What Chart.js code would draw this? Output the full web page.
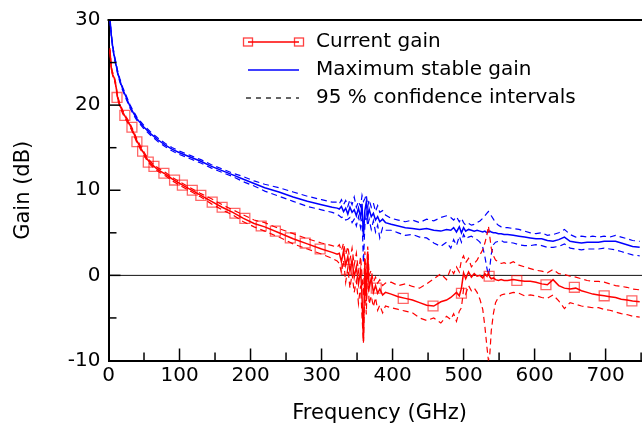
<!DOCTYPE html>
<html>
<head>
<meta charset="utf-8">
<script src="https://cdn.jsdelivr.net/npm/chart.js@4.4.1/dist/chart.umd.min.js"></script>
<style>
  html, body { margin: 0; padding: 0; background: #fff; overflow: hidden; }
  canvas { display: block; }
</style>
</head>
<body>
<canvas id="gainChart" width="659" height="425"></canvas>
<script>
// frequency points (GHz), shared by all six measured curves
const freq = [
  2, 4, 6, 8, 10, 13, 16, 20, 25, 30, 35, 40, 45, 50, 55, 60, 70, 80, 90, 100,
  115, 130, 145, 160, 175, 190, 205, 220, 240, 260, 280, 300, 315,
  322, 325, 328, 331, 334, 337, 340, 343, 346, 349, 352, 355, 357, 359, 361, 363, 365, 367, 370, 373,
  376, 379, 382, 386, 390,
  398, 408, 418, 428, 438, 448, 458, 468, 476,
  482, 486, 490, 494, 497, 500, 503, 507, 511, 515, 519, 523, 527, 530, 533, 535, 537, 539, 542, 545,
  549, 553, 557,
  562, 570, 578, 586, 594, 602, 610, 618, 626, 634, 642, 650, 658, 666, 674, 682, 690, 698, 706, 714,
  722, 730, 738, 748
];

// current gain (dB) and its 95 % bounds
const currentGain = [
  26.5, 24.3, 23.6, 23.2, 22.5, 20.8, 20.0, 19.2, 18.4, 17.7, 16.8, 15.8, 15.0, 14.3, 13.6, 13.1, 12.4, 11.9, 11.3, 10.8,
  10.1, 9.4, 8.7, 8.0, 7.4, 6.7, 6.1, 5.7, 5.0, 4.3, 3.7, 3.1, 2.7,
  2.5, 2.6, 1.6, 2.9, 1.2, 2.2, 0.5, 1.8, -0.2, 1.0, -1.0, 0.6, -2.5, -7.7, 1.4, -3.0, 2.8, -1.5, -0.3, -2.0,
  -1.2, -2.1, -1.6, -2.3, -2.0,
  -2.2, -2.5, -2.7, -2.9, -3.2, -3.5, -3.6, -3.1, -2.9,
  -2.6, -2.3, -2.0, -2.4, -1.5, 0.3, -0.4, 0.4, -0.2, 0.2, -0.1, 0.0, -0.3, 0.2, -0.1, 0.3, -0.2, -0.4, -0.3, -0.5,
  -0.6, -0.5, -0.6,
  -0.6, -0.5, -0.6, -0.7, -0.7, -0.8, -1.0, -1.1, -0.5, -1.2, -1.5, -1.6, -1.5, -1.8, -2.0, -2.2, -2.3, -2.4, -2.5, -2.6,
  -2.8, -2.9, -3.0, -3.1
];
const currentGainHigh = [
  26.7, 24.5, 23.8, 23.4, 22.7, 21.0, 20.2, 19.4, 18.6, 17.9, 17.0, 16.0, 15.2, 14.5, 13.8, 13.3, 12.6, 12.1, 11.5, 11.0,
  10.3, 9.6, 9.0, 8.3, 7.7, 7.1, 6.5, 6.2, 5.5, 4.9, 4.3, 3.8, 3.5,
  3.3, 3.6, 2.9, 3.8, 2.4, 3.4, 1.8, 3.2, 1.2, 2.6, 0.4, 2.2, 0.0, -2.5, 2.8, -1.0, 3.4, 0.0, 0.6, -0.8,
  -0.2, -0.9, -0.5, -1.2, -0.9,
  -0.8, -1.2, -1.0, -1.3, -1.5, -1.0, -0.4, 0.2, -0.5,
  0.8, 0.2, 1.0, 0.4, 1.8, 2.3, 1.5, 2.0, 1.0, 1.4, 1.8, 2.4, 3.0, 3.8, 4.8, 5.8, 4.5, 3.2, 2.3, 1.8,
  1.6, 1.4, 1.5,
  1.3, 1.6, 1.2, 1.0, 0.8, 0.6, 0.5, 0.3, 0.7, 0.2, 0.1, -0.1, -0.2, -0.4, -0.6, -0.7, -0.7, -0.8, -1.0, -1.2,
  -1.3, -1.4, -1.6, -1.7
];
const currentGainLow = [
  26.3, 24.1, 23.4, 23.0, 22.3, 20.6, 19.8, 19.0, 18.2, 17.5, 16.6, 15.6, 14.8, 14.1, 13.4, 12.9, 12.2, 11.7, 11.1, 10.6,
  9.9, 9.2, 8.4, 7.7, 7.1, 6.3, 5.7, 5.2, 4.5, 3.7, 3.1, 2.5, 2.0,
  1.7, 1.4, 0.3, 1.8, -0.8, 0.9, -1.5, 0.2, -2.0, -0.6, -3.3, -1.2, -4.8, -7.9, -0.7, -4.6, 1.5, -3.4, -2.4, -3.7,
  -2.6, -4.1, -3.5, -4.4, -3.6,
  -3.8, -4.0, -4.2, -4.4, -5.0, -5.3, -5.0, -5.6, -4.8,
  -5.2, -4.5, -5.4, -4.2, -3.8, -1.6, -2.2, -1.2, -1.8, -1.5, -2.0, -2.8, -4.0, -6.0, -8.5, -10.0, -9.2, -6.5, -4.5, -3.2,
  -2.6, -2.3, -2.2,
  -2.2, -2.0, -2.1, -2.4, -2.3, -2.4, -2.6, -2.7, -2.3, -3.0, -3.9, -3.2, -3.4, -3.6, -3.7, -3.8, -3.8, -4.0, -4.1, -4.3,
  -4.5, -4.6, -4.8, -4.9
];

// maximum stable gain (dB) and its 95 % bounds
const stableGain = [
  30.2, 28.2, 26.8, 25.8, 25.0, 23.8, 22.9, 21.9, 20.9, 19.9, 19.1, 18.4, 17.9, 17.4, 17.0, 16.6, 15.9, 15.3, 14.8, 14.4,
  13.9, 13.4, 12.8, 12.3, 11.8, 11.3, 10.8, 10.3, 9.8, 9.2, 8.7, 8.3, 8.0,
  7.9, 7.8, 8.1, 7.5, 7.9, 7.2, 8.0, 7.4, 7.7, 7.0, 7.9, 6.8, 8.4, 4.5, 7.6, 8.6, 6.9, 7.8, 6.9, 7.3,
  6.5, 6.9, 6.3, 6.6, 6.2,
  6.0, 5.8, 5.6, 5.5, 5.4, 5.5, 5.3, 5.2, 5.4,
  5.3, 5.6, 5.1, 5.7, 5.0, 5.6, 5.2, 5.4, 5.3, 5.2, 5.3, 5.2, 5.1, 5.2, 5.0, 5.1, 5.2, 5.1, 5.0, 5.0,
  4.9, 4.9, 4.8,
  4.8, 4.7, 4.6, 4.5, 4.4, 4.3, 4.3, 4.1, 4.0, 4.2, 4.5, 4.0, 3.9, 3.8, 3.9, 3.9, 3.9, 4.0, 4.0, 4.0,
  3.8, 3.6, 3.4, 3.3
];
const stableGainHigh = [
  30.4, 28.4, 27.0, 26.0, 25.2, 24.0, 23.1, 22.1, 21.1, 20.1, 19.3, 18.6, 18.1, 17.6, 17.2, 16.8, 16.1, 15.5, 15.0, 14.6,
  14.1, 13.6, 13.0, 12.5, 12.0, 11.6, 11.1, 10.7, 10.3, 9.8, 9.3, 8.9, 8.6,
  8.6, 8.4, 8.9, 8.3, 8.8, 8.1, 8.9, 8.3, 9.2, 8.0, 8.7, 8.1, 9.4, 8.7, 9.0, 9.5, 8.1, 8.9, 8.0, 8.5,
  7.5, 8.2, 7.4, 7.6, 7.1,
  6.7, 6.5, 6.3, 6.5, 6.2, 6.6, 6.4, 6.8, 7.0,
  6.8, 6.5, 6.9, 6.3, 6.7, 6.2, 5.9, 6.1, 5.9, 6.0, 6.2, 6.4, 6.7, 7.0, 7.3, 7.5, 7.3, 7.0, 6.6, 6.2,
  5.9, 5.7, 5.6,
  5.6, 5.5, 5.4, 5.2, 5.0, 4.9, 5.0, 4.7, 4.8, 5.0, 5.4, 4.8, 4.5, 4.6, 4.5, 4.6, 4.5, 4.6, 4.5, 4.7,
  4.5, 4.3, 4.1, 4.0
];
const stableGainLow = [
  30.0, 28.0, 26.6, 25.6, 24.8, 23.6, 22.7, 21.7, 20.7, 19.7, 18.9, 18.2, 17.7, 17.2, 16.8, 16.4, 15.7, 15.1, 14.6, 14.2,
  13.7, 13.2, 12.6, 12.1, 11.6, 11.0, 10.5, 9.9, 9.3, 8.7, 8.1, 7.7, 7.4,
  7.2, 7.0, 6.8, 6.9, 6.5, 6.6, 6.8, 6.2, 6.6, 5.8, 6.9, 5.6, 6.7, 1.5, 5.9, 7.2, 5.8, 6.6, 5.4, 6.4,
  5.1, 5.9, 4.4, 5.6, 5.3,
  5.3, 5.0, 4.7, 4.8, 4.5, 4.4, 3.8, 3.4, 3.9,
  3.2, 4.2, 3.5, 4.6, 3.9, 4.8, 4.3, 4.5, 4.6, 4.4, 4.2, 3.9, 3.3, 2.2, 0.8, 0.0, 1.0, 2.5, 3.6, 3.9,
  4.0, 4.1, 3.9,
  3.9, 3.8, 3.6, 3.5, 3.5, 3.6, 3.5, 3.3, 3.3, 3.4, 3.7, 3.2, 3.1, 3.0, 3.1, 3.1, 3.1, 3.2, 3.1, 3.0,
  2.8, 2.6, 2.4, 2.3
];

// square symbols on the current gain curve
const markerFreq = [12, 23, 33, 40, 48, 56, 64, 78, 93, 104, 118, 130, 146, 160, 178, 192, 215, 235, 256, 277, 298,
  335, 377, 415, 457, 497, 536, 575, 616, 656, 698, 737];
const markerGain = [20.9, 18.8, 17.4, 15.7, 14.6, 13.3, 12.8, 12.0, 11.2, 10.6, 10.0, 9.4, 8.6, 8.0, 7.3, 6.7, 5.8, 5.2, 4.4, 3.8, 3.1,
  0.7, -1.5, -2.7, -3.6, -2.1, -0.1, -0.6, -1.1, -1.4, -2.4, -3.0];

const legendLabels = ["Current gain", "Maximum stable gain", "95 % confidence intervals"];

const RED = "#ff0000";
const BLUE = "#0000ff";
const DASH = [6, 4];

Chart.defaults.font.family = '"DejaVu Sans", sans-serif';
Chart.defaults.font.size = 20;
Chart.defaults.color = "#000";

function pairs(xs, ys) {
    return xs.map((f, i) => ({ x: f, y: ys[i] }));
}

function lineSet(label, ys, color, dashed) {
    return {
        label: label,
        data: pairs(freq, ys),
        borderColor: color,
        borderWidth: dashed ? 1.2 : 1.5,
        borderDash: dashed ? DASH : [],
        pointRadius: 0,
        fill: false,
        tension: 0
    };
}

// zero line, frame, inward ticks and the boxed legend
const plotDecor = {
    id: "plotDecor",
    beforeDatasetsDraw(chart) {
        const { ctx, chartArea, scales: { y } } = chart;
        const y0 = y.getPixelForValue(0);
        ctx.save();
        ctx.strokeStyle = "#111";
        ctx.lineWidth = 1;
        ctx.beginPath();
        ctx.moveTo(chartArea.left, y0);
        ctx.lineTo(chartArea.right, y0);
        ctx.stroke();
        ctx.restore();
    },
    afterDraw(chart) {
        const { ctx, chartArea, scales: { x, y } } = chart;
        ctx.save();
        ctx.strokeStyle = "#000";
        ctx.lineWidth = 2;
        ctx.beginPath();
        ctx.moveTo(chartArea.left - 1, chartArea.top);
        ctx.lineTo(chartArea.right, chartArea.top);
        ctx.stroke();

        ctx.lineWidth = 1.5;
        for (let v = 50; v <= 750; v += 50) {
            const px = x.getPixelForValue(v);
            const len = v % 100 === 0 ? 12 : 8;
            ctx.beginPath();
            ctx.moveTo(px, chartArea.bottom);
            ctx.lineTo(px, chartArea.bottom - len);
            ctx.stroke();
        }
        for (let v = -5; v <= 25; v += 5) {
            const py = y.getPixelForValue(v);
            const len = v % 10 === 0 ? 12 : 8;
            ctx.beginPath();
            ctx.moveTo(chartArea.left, py);
            ctx.lineTo(chartArea.left + len, py);
            ctx.stroke();
        }

        // legend
        const rows = [42, 70, 98];
        const x1 = 248, x2 = 299, textX = 316;
        ctx.lineWidth = 1.5;
        ctx.strokeStyle = RED;
        ctx.beginPath();
        ctx.moveTo(x1, rows[0]);
        ctx.lineTo(x2, rows[0]);
        ctx.stroke();
        ctx.lineWidth = 1.3;
        ctx.strokeStyle = "rgba(255,0,0,0.75)";
        ctx.strokeRect(x1 - 4.5, rows[0] - 4, 9, 8);
        ctx.strokeRect(x2 - 4.5, rows[0] - 4, 9, 8);

        ctx.lineWidth = 1.5;
        ctx.strokeStyle = BLUE;
        ctx.beginPath();
        ctx.moveTo(x1, rows[1]);
        ctx.lineTo(x2, rows[1]);
        ctx.stroke();

        ctx.lineWidth = 1.2;
        ctx.strokeStyle = "#000";
        ctx.setLineDash([5, 5]);
        ctx.beginPath();
        ctx.moveTo(x1 - 2, rows[2]);
        ctx.lineTo(x2, rows[2]);
        ctx.stroke();
        ctx.setLineDash([]);

        ctx.fillStyle = "#000";
        ctx.font = '20px "DejaVu Sans", sans-serif';
        ctx.textBaseline = "middle";
        ctx.textAlign = "left";
        legendLabels.forEach((t, i) => ctx.fillText(t, textX, rows[i]));
        ctx.restore();
    }
};

const gainChart = new Chart(document.getElementById("gainChart").getContext("2d"), {
    type: "line",
    data: {
        datasets: [
            {
                label: legendLabels[0] + " symbols",
                data: pairs(markerFreq, markerGain),
                showLine: false,
                pointStyle: "rect",
                pointRadius: 7,
                pointBorderWidth: 1.3,
                pointBorderColor: "rgba(255,0,0,0.6)",
                pointBackgroundColor: "rgba(0,0,0,0)"
            },
            lineSet(legendLabels[0], currentGain, RED, false),
            lineSet(legendLabels[2], currentGainHigh, RED, true),
            lineSet(legendLabels[2], currentGainLow, RED, true),
            lineSet(legendLabels[1], stableGain, BLUE, false),
            lineSet(legendLabels[2], stableGainHigh, BLUE, true),
            lineSet(legendLabels[2], stableGainLow, BLUE, true)
        ]
    },
    options: {
        responsive: false,
        animation: false,
        layout: { padding: { top: 17.6, right: 0, bottom: 0, left: 0 } },
        plugins: {
            legend: { display: false },
            tooltip: { enabled: false }
        },
        scales: {
            x: {
                type: "linear",
                min: 0,
                max: 763.5,
                grid: { display: false, drawTicks: false },
                border: { display: true, color: "#000", width: 2 },
                ticks: { stepSize: 100, includeBounds: false, padding: 3, maxRotation: 0, autoSkip: false },
                title: {
                    display: true,
                    text: "Frequency (GHz)",
                    font: { size: 21, lineHeight: 1 },
                    padding: { top: 0, bottom: 1 }
                },
                afterFit: (scale) => { scale.height = 64.5; }
            },
            y: {
                min: -10,
                max: 30,
                grid: { display: false, drawTicks: false },
                border: { display: true, color: "#000", width: 2 },
                ticks: { stepSize: 10, padding: 8 },
                title: {
                    display: true,
                    text: "Gain (dB)",
                    font: { size: 21, lineHeight: 1 },
                    padding: { top: 13.5, bottom: 0 }
                },
                afterFit: (scale) => { scale.width = 108.5; }
            }
        }
    },
    plugins: [plotDecor]
});
</script>
</body>
</html>
